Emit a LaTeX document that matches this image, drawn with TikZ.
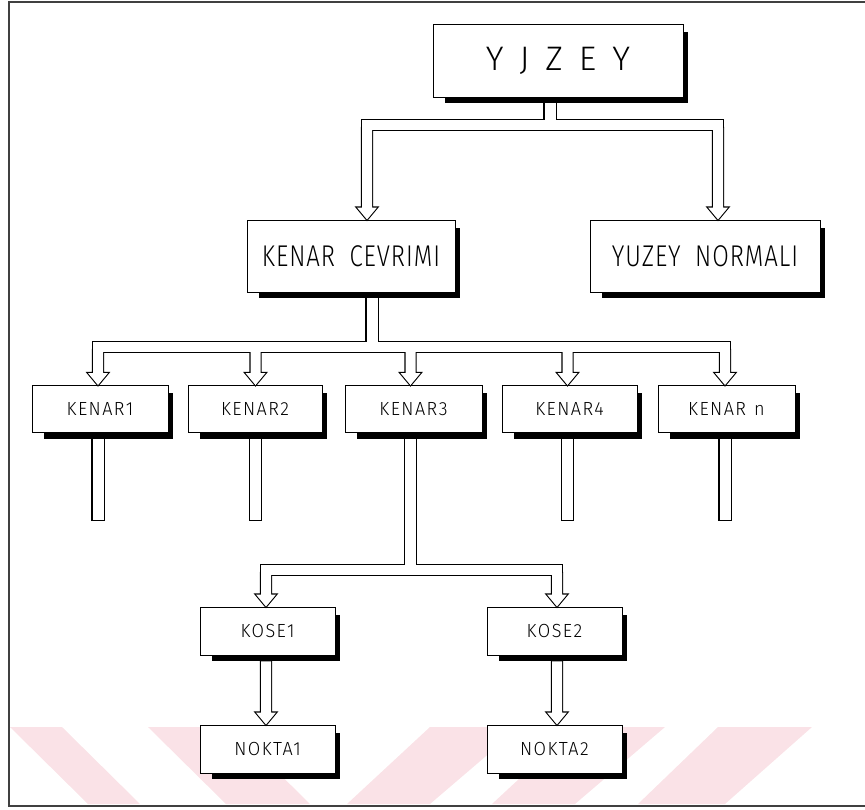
\documentclass[tikz,border=0pt]{standalone}
\usepackage{fontspec}
\setmainfont{Fira Sans Light}
\usepackage{graphicx}
\usetikzlibrary{calc,backgrounds}

\definecolor{wmpink}{RGB}{250,226,231}

\tikzset{
  box/.style={draw=black, line width=0.9pt, fill=white, inner sep=0pt},
  bigbox/.style={box, minimum height=72pt},
  smallbox/.style={box, minimum height=47pt},
  pipeline/.style={draw=black, line width=2.2pt, line join=miter},
  pipefill/.style={fill=white},
  frameline/.style={draw=black!75, line width=1.4pt},
}

% outlines of the hollow connectors (y grows downward)
% horizontal bar between the x of two arrow tips, top edge at y of #3
\newcommand\barpath[3]{($(#1 |- #3)+(-5,0)$) rectangle ($(#2 |- #3)+(5,10)$)}
% vertical stem from point #1 down into the bar whose top is at y of #2
\newcommand\stempath[2]{($(#1)+(-5.5,0)$) rectangle ($(#1 |- #2)+(5.5,2)$)}
% free-ending stub from point #1 down to y of #2
\newcommand\stubpath[2]{($(#1)+(-5.5,0)$) rectangle ($(#1 |- #2)+(5.5,0)$)}
% hollow arrow starting at y of #1 and pointing down to tip #2
\newcommand\arrowpath[2]{($(#2 |- #1)+(-5,-2)$) -- ($(#2)+(-5,-12)$) -- ($(#2)+(-10,-12)$) -- (#2) -- ($(#2)+(10,-12)$) -- ($(#2)+(5,-12)$) -- ($(#2 |- #1)+(5,-2)$) -- cycle}
% black drop shadow to the lower right of a box
\newcommand\boxshadow[1]{\fill ($(#1.north west)+(12,8)$) rectangle ($(#1.south east)+(5,6)$);}
\newcommand\lbl[4]{\scalebox{#1}[1]{\fontsize{#2}{#2}\selectfont\addfontfeature{LetterSpace=#3}#4}}

\begin{document}
\begin{tikzpicture}[x=1pt, y=-1pt]
\useasboundingbox (0,0) rectangle (865,809);

% ---- boxes ----
\node[box, minimum width=250pt, minimum height=73pt] (top) at (558,60.5)
  {\fontsize{34}{34}\selectfont Y\kern16pt J\kern16pt Z\kern16pt E\kern16pt Y};
\node[bigbox, minimum width=208pt] (kc) at (351,256) {\lbl{0.8}{30}{4}{KENAR\hspace{0.6em}CEVRIMI}};
\node[bigbox, minimum width=230pt] (yn) at (705,256) {\lbl{0.8}{30}{4}{YUZEY\hspace{0.6em}NORMALI}};

\node[smallbox, minimum width=136pt] (k1) at (100,409) {\lbl{0.95}{19}{8}{KENAR1}};
\node[smallbox, minimum width=134pt] (k2) at (255,409) {\lbl{0.95}{19}{8}{KENAR2}};
\node[smallbox, minimum width=137pt] (k3) at (413.5,409) {\lbl{0.95}{19}{8}{KENAR3}};
\node[smallbox, minimum width=135pt] (k4) at (569.5,409) {\lbl{0.95}{19}{8}{KENAR4}};
\node[smallbox, minimum width=137pt] (k5) at (726.5,409) {\lbl{0.95}{19}{8}{KENAR\hspace{0.45em}n}};

\node[smallbox, minimum width=135pt, minimum height=48pt] (ko1) at (267.5,631) {\lbl{0.95}{19}{8}{KOSE1}};
\node[smallbox, minimum width=135pt, minimum height=48pt] (ko2) at (554.5,631) {\lbl{0.95}{19}{8}{KOSE2}};
\node[smallbox, minimum width=135pt, minimum height=48pt] (n1) at (267.5,749) {\lbl{0.95}{19}{8}{NOKTA1}};
\node[smallbox, minimum width=135pt, minimum height=48pt] (n2) at (554.5,749) {\lbl{0.95}{19}{8}{NOKTA2}};

% ---- connector geometry ----
\coordinate (b1) at (0,120);   \coordinate (b1b) at (0,130);
\coordinate (b2) at (0,342);   \coordinate (b2b) at (0,352);
\coordinate (b3) at (0,565);   \coordinate (b3b) at (0,575);
\coordinate (stubend) at (0,520);

\coordinate (s0) at ($(top.south)+(-8,6)$);
\coordinate (s1) at ($(kc.south)+(21,6)$);
\coordinate (a1) at ($(kc.north)+(16,0)$);
\coordinate (a2) at ($(yn.north)+(13,0)$);

\coordinate (t1) at ($(k1.north)+(-2,0)$);
\coordinate (t2) at ($(k2.north)+(0.5,0)$);
\coordinate (t3) at ($(k3.north)+(-3,0)$);
\coordinate (t4) at ($(k4.north)+(-2,0)$);
\coordinate (t5) at ($(k5.north)+(-1.5,0)$);
\coordinate (u1) at ($(k1.south)+(-2,6)$);
\coordinate (u2) at ($(k2.south)+(0.5,6)$);
\coordinate (u3) at ($(k3.south)+(-3,6)$);
\coordinate (u4) at ($(k4.south)+(-2,6)$);
\coordinate (u5) at ($(k5.south)+(-1.5,6)$);

\coordinate (c1) at ($(ko1.north)+(-1.5,0)$);
\coordinate (c2) at ($(ko2.north)+(2.5,0)$);
\coordinate (d1) at ($(n1.north)+(-1.5,0)$);
\coordinate (d2) at ($(n2.north)+(2.5,0)$);
\coordinate (e1) at ($(ko1.south)+(0,8)$);
\coordinate (e2) at ($(ko2.south)+(0,8)$);

\newcommand\pipeset[1]{%
  #1 \barpath{a1}{a2}{b1};
  #1 \stempath{s0}{b1};
  #1 \arrowpath{b1b}{a1};
  #1 \arrowpath{b1b}{a2};
  #1 \barpath{t1}{t5}{b2};
  #1 \stempath{s1}{b2};
  #1 \arrowpath{b2b}{t1};
  #1 \arrowpath{b2b}{t2};
  #1 \arrowpath{b2b}{t3};
  #1 \arrowpath{b2b}{t4};
  #1 \arrowpath{b2b}{t5};
  #1 \stubpath{u1}{stubend};
  #1 \stubpath{u2}{stubend};
  #1 \stubpath{u4}{stubend};
  #1 \stubpath{u5}{stubend};
  #1 \barpath{c1}{c2}{b3};
  #1 \stempath{u3}{b3};
  #1 \arrowpath{b3b}{c1};
  #1 \arrowpath{b3b}{c2};
  #1 \arrowpath{e1}{d1};
  #1 \arrowpath{e2}{d2};
}
\pipeset{\path[pipeline]}
\pipeset{\path[pipefill]}

% ---- background: faint watermark stripes and box shadows ----
\begin{scope}[on background layer]
  \fill[wmpink] (10,727) -- (62,727) -- (140,804) -- (88,804) -- cycle;
  \fill[wmpink] (148,727) -- (232,727) -- (310,804) -- (226,804) -- cycle;
  \fill[wmpink] (347,804) -- (430,804) -- (520,727) -- (430,727) -- cycle;
  \fill[wmpink] (492,804) -- (575,804) -- (665,727) -- (575,727) -- cycle;
  \fill[wmpink] (638,804) -- (725,804) -- (812,727) -- (718,727) -- cycle;
  \foreach \b in {top,kc,yn,k1,k2,k3,k4,k5,ko1,ko2,n1,n2} {\boxshadow{\b}}
\end{scope}

% ---- page frame ----
\path[frameline] (865,2) -- (9,2) -- (9,806) -- (865,806);
\end{tikzpicture}
\end{document}
